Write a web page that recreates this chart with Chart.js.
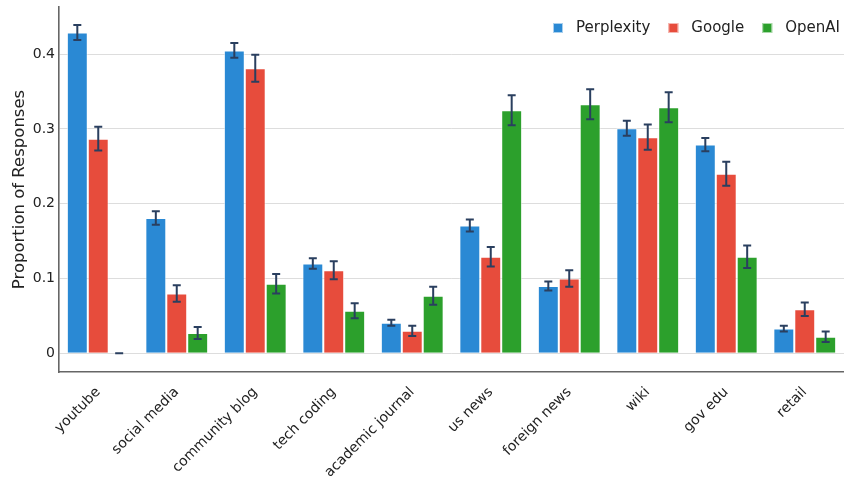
<!DOCTYPE html>
<html>
<head>
<meta charset="utf-8">
<script src="https://cdn.jsdelivr.net/npm/chart.js@4/dist/chart.umd.min.js"></script>
<style>
    body { margin: 0; background: #fff; }
    canvas { display: block; }
</style>
</head>
<body>
<canvas id="sourcesChart" width="844" height="478"></canvas>
<script>
const categories = ['youtube', 'social media', 'community blog', 'tech coding', 'academic journal', 'us news', 'foreign news', 'wiki', 'gov edu', 'retail'];

const perplexity = [0.429, 0.181, 0.405, 0.120, 0.041, 0.171, 0.090, 0.301, 0.279, 0.033];
const google     = [0.287, 0.080, 0.381, 0.111, 0.030, 0.129, 0.100, 0.289, 0.240, 0.059];
const openai     = [0.000, 0.027, 0.093, 0.057, 0.077, 0.325, 0.333, 0.329, 0.129, 0.022];

// half-width of the error bars
const perplexityErr = [0.010, 0.009, 0.010, 0.007, 0.004, 0.008, 0.006, 0.010, 0.009, 0.004];
const googleErr     = [0.016, 0.011, 0.018, 0.012, 0.007, 0.013, 0.011, 0.017, 0.016, 0.009];
const openaiErr     = [0.000, 0.008, 0.013, 0.010, 0.012, 0.020, 0.020, 0.020, 0.015, 0.007];

const yTicks = [0, 0.1, 0.2, 0.3, 0.4];

const FONT = "'DejaVu Sans', Verdana, sans-serif";

const errorBars = {
    id: 'errorBars',
    afterDatasetsDraw(chart) {
        const ctx = chart.ctx;
        const y = chart.scales.y;
        ctx.save();
        ctx.strokeStyle = '#2a3f5f';
        ctx.lineWidth = 2;
        chart.data.datasets.forEach((ds, i) => {
            const meta = chart.getDatasetMeta(i);
            meta.data.forEach((bar, j) => {
                const v = ds.data[j];
                const e = ds.errors[j];
                const top = y.getPixelForValue(v + e);
                const bot = y.getPixelForValue(v - e);
                ctx.beginPath();
                ctx.moveTo(bar.x, top);
                ctx.lineTo(bar.x, bot);
                ctx.moveTo(bar.x - 4, top);
                ctx.lineTo(bar.x + 4, top);
                ctx.moveTo(bar.x - 4, bot);
                ctx.lineTo(bar.x + 4, bot);
                ctx.stroke();
            });
        });
        ctx.restore();
    }
};

// legend in the top-right corner, laid out right to left
const cornerLegend = {
    id: 'cornerLegend',
    afterDraw(chart) {
        const ctx = chart.ctx;
        ctx.save();
        ctx.font = '15px ' + FONT;
        ctx.textBaseline = 'middle';
        let x = 840;
        const cy = 28;
        const items = chart.data.datasets.slice().reverse();
        items.forEach(ds => {
            const w = ctx.measureText(ds.label).width;
            x -= w;
            ctx.fillStyle = '#222';
            ctx.fillText(ds.label, x, cy);
            x -= 13 + 10;
            ctx.fillStyle = ds.backgroundColor;
            ctx.fillRect(x, cy - 5, 10, 10);
            ctx.strokeStyle = 'rgba(255,255,255,0.6)';
            ctx.lineWidth = 1;
            ctx.strokeRect(x + 0.5, cy - 4.5, 9, 9);
            x -= 18;
        });
        ctx.restore();
    }
};

new Chart(document.getElementById('sourcesChart').getContext('2d'), {
    type: 'bar',
    data: {
        labels: categories,
        datasets: [
            { label: 'Perplexity', data: perplexity, errors: perplexityErr, backgroundColor: '#2a89d4' },
            { label: 'Google', data: google, errors: googleErr, backgroundColor: '#e74c3c' },
            { label: 'OpenAI', data: openai, errors: openaiErr, backgroundColor: '#2ca02c' }
        ]
    },
    options: {
        responsive: false,
        animation: false,
        layout: { padding: 0 },
        datasets: {
            bar: {
                categoryPercentage: 0.8,
                barPercentage: 1.0,
                borderWidth: 1,
                borderColor: 'rgba(255,255,255,0.6)'
            }
        },
        plugins: {
            legend: { display: false },
            tooltip: { enabled: false }
        },
        scales: {
            x: {
                grid: { display: false },
                border: { display: true, color: '#666', width: 1.6 },
                ticks: {
                    minRotation: 45,
                    maxRotation: 45,
                    padding: 4,
                    color: '#222',
                    font: { family: FONT, size: 14 }
                },
                afterFit: (s) => { s.height = 106; }
            },
            y: {
                min: -0.025,
                max: 0.463,
                afterBuildTicks: (s) => { s.ticks = yTicks.map(v => ({ value: v })); },
                grid: { color: '#dddddd', lineWidth: 1, drawTicks: false },
                border: { display: true, color: '#666', width: 1.6 },
                ticks: {
                    padding: 4,
                    color: '#222',
                    font: { family: FONT, size: 14 },
                    callback: (v) => v === 0 ? '0' : v.toFixed(1)
                },
                title: {
                    display: true,
                    text: 'Proportion of Responses',
                    color: '#222',
                    font: { family: FONT, size: 16.5 },
                    padding: { top: 10, bottom: 0 }
                },
                afterFit: (s) => {
                    s.width = 59;
                    s.paddingTop = 7;
                    s.paddingBottom = 0;
                }
            }
        }
    },
    plugins: [errorBars, cornerLegend]
});
</script>
</body>
</html>
